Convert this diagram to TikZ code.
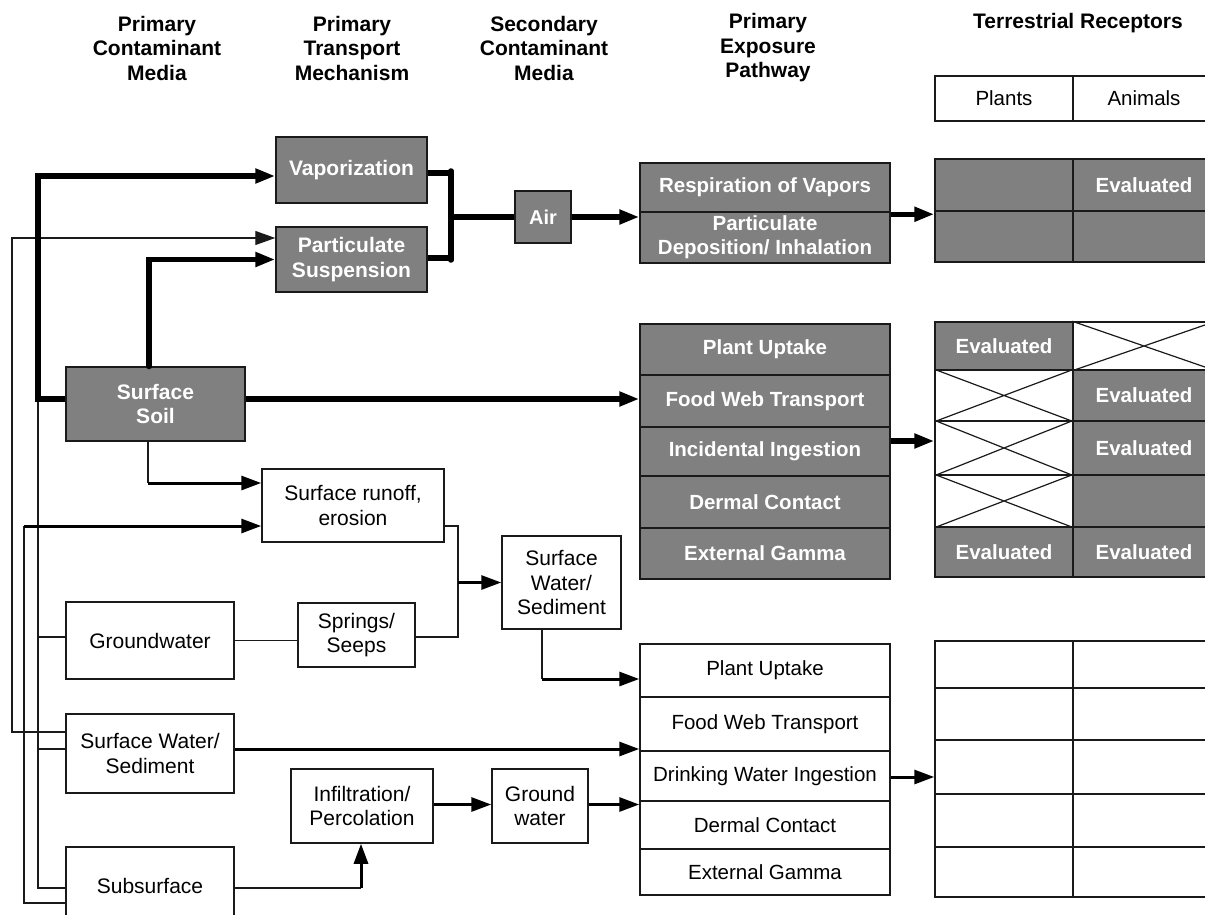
\documentclass[tikz,border=0pt]{standalone}
\usepackage{fontspec}
\setmainfont{Liberation Sans}
\usetikzlibrary{arrows.meta}
\definecolor{boxgray}{HTML}{808080}
\definecolor{edge}{HTML}{1A1A1A}
\tikzset{
 base/.style={draw=edge, line width=1.5pt, rectangle, inner sep=0pt, align=center},
 gbox/.style={base, fill=boxgray, text=white, font=\bfseries\fontsize{21}{24.5}\selectfont},
 wbox/.style={base, fill=white, text=black, font=\fontsize{21}{24.5}\selectfont},
 gcell/.style={base, fill=boxgray, text=white, font=\bfseries\fontsize{20.5}{24}\selectfont, minimum width=250pt},
 wcell/.style={base, fill=white, text=black, font=\fontsize{20.5}{24}\selectfont, minimum width=250pt},
 gtl/.style={base, fill=boxgray, text=white, font=\bfseries\fontsize{20.5}{24}\selectfont, minimum width=138pt},
 gtr/.style={base, fill=boxgray, text=white, font=\bfseries\fontsize{20.5}{24}\selectfont, minimum width=142pt},
 wtl/.style={base, fill=white, text=black, font=\fontsize{20.5}{24}\selectfont, minimum width=138pt},
 wtr/.style={base, fill=white, text=black, font=\fontsize{20.5}{24}\selectfont, minimum width=142pt},
 head/.style={align=center, font=\bfseries\fontsize{21}{24.5}\selectfont, inner sep=0pt},
 bigln/.style={line width=5.5pt, draw=black},
 midln/.style={line width=3pt, draw=black},
 thinln/.style={line width=1.3pt, draw=edge},
 tip/.style={-{Triangle[length=20pt,width=14pt]}},
 xline/.style={line width=1.2pt, draw=edge},
}
\begin{document}
\begin{tikzpicture}[x=1pt,y=-1pt]
\useasboundingbox (0,0) rectangle (1205,915);
\clip (0,0) rectangle (1205,915);
\fill[white] (0,0) rectangle (1205,915);

% headings
\node[head] (h1) at (157,48) {Primary\\Contaminant\\Media};
\node[head] (h2) at (352,48) {Primary\\Transport\\Mechanism};
\node[head] (h3) at (544,48) {Secondary\\Contaminant\\Media};
\node[head] (h4) at (768,48) {Primary\\Exposure\\Pathway};
\node[head] (h5) at (1078,23) {Terrestrial Receptors};

% header table
\node[wtl, minimum height=45pt] (hp) at (1004,98.5) {Plants};
\node[wtr, minimum height=45pt] (ha) at (1144,98.5) {Animals};

% column 1
\node[gbox, minimum width=179pt, minimum height=74pt] (ss) at (155.5,404) {Surface\\Soil};
\node[wbox, minimum width=168pt, minimum height=77pt] (gw) at (150,640.5) {Groundwater};
\node[wbox, minimum width=168pt, minimum height=79pt] (sw) at (150,753.5) {Surface Water/\\Sediment};
\node[wbox, minimum width=168pt, minimum height=78pt] (sub) at (150,886) {Subsurface};

% column 2
\node[gbox, minimum width=151pt, minimum height=66pt] (vap) at (351.5,170) {Vaporization};
\node[gbox, minimum width=151pt, minimum height=65pt] (ps) at (351.5,259.5) {Particulate\\Suspension};
\node[wbox, minimum width=182pt, minimum height=73pt] (sro) at (353,505.5) {Surface runoff,\\erosion};
\node[wbox, minimum width=117pt, minimum height=64pt] (spr) at (356.5,635) {Springs/\\Seeps};
\node[wbox, minimum width=142pt, minimum height=74pt] (inf) at (362,806) {Infiltration/\\Percolation};

% column 3
\node[gbox, minimum width=56pt, minimum height=52pt, font=\bfseries\fontsize{20}{24}\selectfont] (air) at (543,217) {Air};
\node[wbox, minimum width=119pt, minimum height=93pt] (sws) at (561.5,582.5) {Surface\\Water/\\Sediment};
\node[wbox, minimum width=96pt, minimum height=74pt] (gwt) at (540,806) {Ground\\water};

% column 4
\node[gcell, minimum height=49pt] (p1a) at (765,187.5) {Respiration of Vapors};
\node[gcell, minimum height=51pt] (p1b) at (765,237.5) {Particulate\\Deposition/ Inhalation};

\node[gcell, minimum height=51pt] (p2a) at (765,349.5) {Plant Uptake};
\node[gcell, minimum height=52pt] (p2b) at (765,401) {Food Web Transport};
\node[gcell, minimum height=49pt] (p2c) at (765,451.5) {Incidental Ingestion};
\node[gcell, minimum height=52pt] (p2d) at (765,502) {Dermal Contact};
\node[gcell, minimum height=51pt] (p2e) at (765,553.5) {External Gamma};

\node[wcell, minimum height=53pt] (p3a) at (765,670.5) {Plant Uptake};
\node[wcell, minimum height=54pt] (p3b) at (765,724) {Food Web Transport};
\node[wcell, minimum height=50pt] (p3c) at (765,776) {Drinking Water Ingestion};
\node[wcell, minimum height=48pt] (p3d) at (765,825) {Dermal Contact};
\node[wcell, minimum height=46pt] (p3e) at (765,872) {External Gamma};

% column 5 : table 1
\node[gtl, minimum height=52pt] (t1al) at (1004,185) {};
\node[gtr, minimum height=52pt] (t1ar) at (1144,185) {Evaluated};
\node[gtl, minimum height=51pt] (t1bl) at (1004,236.5) {};
\node[gtr, minimum height=51pt] (t1br) at (1144,236.5) {};

% table 2
\node[gtl, minimum height=48pt] (t2al) at (1004,346) {Evaluated};
\node[wtr, minimum height=48pt] (t2ar) at (1144,346) {};
\node[wtl, minimum height=51pt] (t2bl) at (1004,395.5) {};
\node[gtr, minimum height=51pt] (t2br) at (1144,395.5) {Evaluated};
\node[wtl, minimum height=54pt] (t2cl) at (1004,448) {};
\node[gtr, minimum height=54pt] (t2cr) at (1144,448) {Evaluated};
\node[wtl, minimum height=52pt] (t2dl) at (1004,501) {};
\node[gtr, minimum height=52pt] (t2dr) at (1144,501) {};
\node[gtl, minimum height=50pt] (t2el) at (1004,552) {Evaluated};
\node[gtr, minimum height=50pt] (t2er) at (1144,552) {Evaluated};
\foreach \c in {t2ar,t2bl,t2cl,t2dl}{
  \draw[xline] (\c.north west) -- (\c.south east) (\c.north east) -- (\c.south west);
}

% table 3
\node[wtl, minimum height=47pt] (t3al) at (1004,664.5) {};
\node[wtr, minimum height=47pt] (t3ar) at (1144,664.5) {};
\node[wtl, minimum height=52pt] (t3bl) at (1004,714) {};
\node[wtr, minimum height=52pt] (t3br) at (1144,714) {};
\node[wtl, minimum height=54pt] (t3cl) at (1004,767) {};
\node[wtr, minimum height=54pt] (t3cr) at (1144,767) {};
\node[wtl, minimum height=53pt] (t3dl) at (1004,820.5) {};
\node[wtr, minimum height=53pt] (t3dr) at (1144,820.5) {};
\node[wtl, minimum height=50pt] (t3el) at (1004,872) {};
\node[wtr, minimum height=50pt] (t3er) at (1144,872) {};

% ---------- connectors ----------
\coordinate (ssw) at ([yshift=5pt]ss.west);
\coordinate (vapw) at ([yshift=-6pt]vap.west);
\coordinate (psw1) at ([yshift=21.5pt]ps.west);
\coordinate (sww1) at ([yshift=21.5pt]sw.west);
\coordinate (sww2) at ([yshift=4.5pt]sw.west);
\coordinate (gww) at ([yshift=3.5pt]gw.west);
\coordinate (subw1) at ([yshift=-2pt]sub.west);
\coordinate (subw2) at ([yshift=-17pt]sub.west);
\coordinate (srow1) at ([yshift=22.5pt]sro.west);
\coordinate (srow2) at ([yshift=-20.5pt]sro.west);
\coordinate (busB) at (38,0);
\coordinate (busA) at (12,0);
\coordinate (busC) at (24,0);

% thin line x=12 : surface water -> particulate suspension
\draw[thinln,tip] (sww1) -- (sww1 -| busA) -- (psw1 -| busA) -- (psw1);
% thin line x=38 : groundwater, surface water, subsurface joining soil bus
\draw[thinln] (subw1) -- (subw1 -| busB) -- (ssw -| busB);
\draw[thinln] (gww) -- (gww -| busB);
\draw[thinln] (sww2) -- (sww2 -| busB);
% thin line x=24 : subsurface -> surface runoff
\draw[thinln] (subw2) -- (subw2 -| busC) -- (srow2 -| busC);
\draw[midln,tip] (srow2 -| busC) -- (srow2);
% thick bus from surface soil to vaporization
\draw[bigln,tip] (ssw) -- (ssw -| busB) -- (vapw -| busB) -- (vapw);
\fill (ssw -| busB) circle (3pt);
% surface soil -> particulate suspension
\coordinate (sstop) at ([xshift=-6.5pt]ss.north);
\draw[bigln,tip] (sstop) -- (sstop |- ps.west) -- (ps.west);
\fill (sstop) circle (3pt);
% surface soil -> surface runoff
\coordinate (ssbot) at ([xshift=-7.5pt]ss.south);
\draw[thinln] (ssbot) -- (ssbot |- srow1);
\draw[midln,tip] (ssbot |- srow1) -- (srow1);
% surface soil -> pathway
\coordinate (sse) at ([yshift=5pt]ss.east);
\draw[bigln,tip] (sse) -- (sse -| p2b.west);

% vaporization / suspension -> air
\coordinate (jbar) at (451,0);
\coordinate (vape) at ([yshift=-3pt]vap.east);
\coordinate (pse) at ([yshift=1.5pt]ps.east);
\draw[bigln] (vape) -- (vape -| jbar);
\draw[bigln] (pse) -- (pse -| jbar);
\draw[bigln,line cap=round] ([yshift=2pt]vape -| jbar) -- ([yshift=-2pt]pse -| jbar);
\draw[bigln] (air.west -| jbar) -- (air.west);
% air -> pathway
\draw[bigln,tip] (air.east) -- (air.east -| p1a.west);
% pathway 1 -> table 1
\coordinate (p1e) at ([yshift=-1.5pt]p1a.south east);
\draw[bigln,tip] (p1e) -- (p1e -| t1al.west);
% pathway 2 -> table 2
\coordinate (p2e) at ([yshift=10.5pt]p2c.east);
\draw[bigln,tip] (p2e) -- (p2e -| t2cl.west);
% pathway 3 -> table 3
\coordinate (p3e) at ([yshift=-1pt]p3c.east);
\draw[midln,tip] (p3e) -- (p3e -| t3cl.west);

% groundwater -> springs
\draw[thinln] (gw.east) -- (gw.east -| spr.west);
% runoff / springs -> surface water (secondary)
\coordinate (jx) at (458,0);
\coordinate (sroe) at ([yshift=-20.5pt]sro.east);
\coordinate (spre) at ([yshift=-2pt]spr.east);
\draw[thinln] (sroe) -- (sroe -| jx) -- (spre -| jx) -- (spre);
\draw[midln,tip] (sws.west -| jx) -- (sws.west);
% surface water (secondary) -> pathway 3
\coordinate (swsb) at ([xshift=-19.5pt]sws.south);
\coordinate (p3aw) at ([yshift=-8.5pt]p3a.west);
\draw[thinln] (swsb) -- (swsb |- p3aw);
\draw[midln,tip] (swsb |- p3aw) -- (p3aw);
% surface water -> pathway 3
\coordinate (swe) at ([yshift=4.5pt]sw.east);
\draw[midln,tip] (swe) -- (swe -| p3b.west);
% infiltration -> ground water -> pathway 3
\coordinate (infe) at ([yshift=1.5pt]inf.east);
\draw[midln,tip] (infe) -- (infe -| gwt.west);
\coordinate (gwte) at ([yshift=1.5pt]gwt.east);
\draw[midln,tip] (gwte) -- (gwte -| p3d.west);
% subsurface -> infiltration
\coordinate (sube) at ([yshift=-2pt]sub.east);
\coordinate (infb) at ([xshift=-1pt]inf.south);
\draw[thinln] (sube) -- (sube -| infb);
\draw[midln,tip] (sube -| infb) -- (infb);
\end{tikzpicture}
\end{document}
